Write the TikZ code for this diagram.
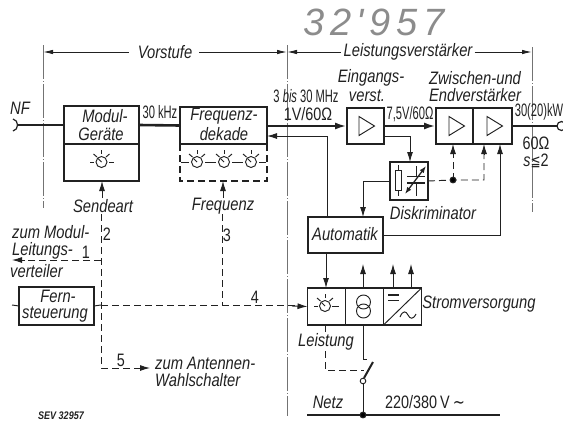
\documentclass[tikz,border=0pt]{standalone}
\usepackage{fontspec}
\usetikzlibrary{arrows.meta,calc}
\setmainfont[FakeStretch=0.82]{Liberation Sans}
\newfontfamily\numfam[FakeStretch=0.62]{Liberation Sans}
\newfontfamily\numwfam[FakeStretch=0.8]{Liberation Sans}
\newfontfamily\handfam[LetterSpace=15]{Liberation Sans}
\newfontfamily\symfam[FakeStretch=0.8]{DejaVu Sans}
\newcommand\labf{\fontsize{18}{18}\selectfont\itshape}
\newcommand\numf{\fontsize{18}{18}\selectfont\numfam}
\newcommand\numwf{\fontsize{18}{18}\selectfont\numwfam}
\definecolor{ink}{gray}{0.13}
\tikzset{
  x=1pt,y=-1pt,
  ink/.style={draw=ink,line width=1.2pt},
  box/.style={ink,rectangle,inner sep=0pt,outer sep=0pt},
  thick line/.style={draw=ink,line width=2.6pt},
  thin line/.style={draw=ink,line width=0.95pt},
  dash line/.style={draw=ink,line width=0.95pt,dash pattern=on 7pt off 4pt},
  guide/.style={draw=black!55,line width=0.5pt,dash pattern=on 34pt off 2pt on 1pt off 2pt},
  head/.style={-{Latex[length=10pt,width=6pt]}},
  lab/.style={font=\labf,text=ink,inner sep=0pt,align=center},
  num/.style={font=\numf,text=ink,inner sep=0pt,align=center},
  numw/.style={font=\numwf,text=ink,inner sep=0pt,align=center},
}
\newcommand\dialsym[2]{%
  \begin{scope}[shift={(#1,#2)}]
    \draw[thin line] (0,0) circle[radius=5.5pt];
    \draw[thin line] (0,0) -- (-3.5,-3.5);
    \draw[thin line] (0,-8) -- (0,-12);
    \draw[thin line] (-8,-8) -- (-4.5,-5);
    \draw[thin line] (8,-8) -- (4.5,-5);
  \end{scope}}
\newcommand\tri[2]{\draw[thin line] (#1,#2-9.5) -- (#1+15.5,#2) -- (#1,#2+9.5) -- cycle;}
\begin{document}
\begin{tikzpicture}
\useasboundingbox (0,0) rectangle (563,421);
\fill[white] (0,0) rectangle (563,421);
% handwritten number
\node[font=\fontsize{38}{38}\selectfont\handfam\itshape,text=black!45,inner sep=0pt] (hand) at (374,22) {32'957};
% guide lines
\coordinate (gaT) at (43,45); \coordinate (gaB) at (43,208);
\coordinate (gbT) at (287,45); \coordinate (gbB) at (287,416);
\coordinate (gcT) at (532,47); \coordinate (gcB) at (532,212);
\draw[guide] (gaT) -- (gaB);
\draw[guide] (gbT) -- (gbB);
\draw[guide] (gcT) -- (gcB);
% dimension lines
\node[lab] (vor) at (165,52) {Vorstufe};
\node[lab] (lei) at (408,52) {Leistungsverstärker};
\coordinate (d1) at (43,52); \coordinate (d2) at (287,52); \coordinate (d3) at (532,52);
\draw[thin line,{Latex[length=10pt,width=4.5pt]}-] (d1) -- ($(vor.west)+(-9,0)$);
\draw[thin line,-{Latex[length=10pt,width=4.5pt]}] ($(vor.east)+(7,0)$) -- (d2);
\draw[thin line,{Latex[length=10pt,width=4.5pt]}-] (d2) -- ($(lei.west)+(-2,0)$);
\draw[thin line,-{Latex[length=10pt,width=4.5pt]}] ($(lei.east)+(2,0)$) -- (d3);
% boxes
\node[box,minimum width=75pt,minimum height=38pt] (modT) at (101.5,125) {};
\node[box,minimum width=75pt,minimum height=37pt] (modB) at (101.5,162.5) {};
\node[box,minimum width=87pt,minimum height=37pt] (frqT) at (223.5,125.5) {};
\coordinate (frqBL) at (180,144); \coordinate (frqBR) at (267,144);
\coordinate (frqBot) at (223,181);
\draw[dash line,line width=1.1pt] (frqBL) -- (180,181) -- (267,181) -- (frqBR);
\node[box,minimum width=37pt,minimum height=36pt] (ein) at (365.5,126) {};
\node[box,minimum width=37pt,minimum height=36pt] (zw) at (454.5,126) {};
\node[box,minimum width=39pt,minimum height=36pt] (end) at (492.5,126) {};
\node[box,minimum width=38pt,minimum height=38pt] (dis) at (409,181) {};
\node[box,minimum width=75pt,minimum height=36pt] (aut) at (345.5,235) {};
\node[box,minimum width=75pt,minimum height=38pt] (fern) at (56.5,306) {};
\node[box,minimum width=38pt,minimum height=37pt] (sa) at (326.5,306.5) {};
\node[box,minimum width=38pt,minimum height=37pt] (sb) at (364.5,306.5) {};
\node[box,minimum width=38pt,minimum height=37pt] (sc) at (402.5,306.5) {};
% box texts
\node[lab] (t1) at (105,116) {Modul-};
\node[lab] (t2) at (101,134) {Geräte};
\node[lab] (t3) at (224,116) {Frequenz-};
\node[lab] (t4) at (224,134) {dekade};
\node[lab] (t5) at (345,234) {Automatik};
\node[lab] (t6) at (58,296) {Fern-};
\node[lab] (t7) at (55,315) {steuerung};
% amplifier labels
\node[lab] (e1) at (371,78) {Eingangs-};
\node[lab] (e2) at (367,96) {verst.};
\node[lab] (z1) at (475,78) {Zwischen-und};
\node[lab] (z2) at (475,95) {Endverstärker};
\node[lab] (nf) at (20,108) {NF};
\node[num] (k30) at (160,112) {30\,kHz};
\node[num] (m1) at (306,96) {3 {\labf bis} 30\,MHz};
\node[numw] (m2) at (308,114) {1V/60Ω};
\node[num] (v75) at (410,114) {7,5V/60Ω};
\node[num] (kw) at (539,112) {30(20)kW};
\node[numw] (oh) at (536,143) {60Ω};
\node[numw] (ss) at (536,161) {{\labf s}{\symfam\fontsize{15}{15}\selectfont ≦}2};
\node[lab] (sen) at (103,206) {Sendeart};
\node[lab] (frq) at (223,206) {Frequenz};
\node[lab] (dk) at (433,213) {Diskriminator};
\node[lab] (st) at (479,304) {Stromversorgung};
\node[lab] (ls) at (326,342) {Leistung};
\node[lab,anchor=west] (l1) at (12,232) {zum Modul-};
\node[lab,anchor=west] (l2) at (12,251) {Leitungs-};
\node[lab,anchor=west] (l3) at (10,271) {verteiler};
\node[lab,anchor=west] (a1) at (155,363) {zum Antennen-};
\node[lab,anchor=west] (a2) at (155,380) {Wahlschalter};
\node[numw] (n1) at (86,252) {1};
\node[numw] (n2) at (107,234) {2};
\node[numw] (n3) at (227,235) {3};
\node[numw] (n4) at (255,297) {4};
\node[numw] (n5) at (121,360) {5};
\node[lab] (netz) at (328,402) {Netz};
\node[numw] (volt) at (425,402) {220/380\,V\,{\symfam∼}};
\node[font=\fontsize{11}{11}\selectfont\bfseries\itshape,text=ink,inner sep=0pt] (sev) at (61,416) {SEV 32957};
% dials
\dialsym{101.5}{162}
\draw[thin line] (90,162) -- (94,162) (109,162) -- (114,162);
\dialsym{197}{162}\dialsym{224}{162}\dialsym{251}{162}
\draw[thin line] (181,162) -- (189,162) (205,162) -- (216,162) (232,162) -- (243,162) (259,162) -- (266,162);
\dialsym{325}{306}
\draw[thin line] (314,306) -- (318,306) (332,306) -- (339,306);
% amp symbols
\tri{359}{126}\tri{449}{126}\tri{487}{126}
% discriminator symbol
\draw[thin line] (398.5,165) -- (398.5,196);
\draw[thin line,fill=white] (395.5,170) rectangle (401.5,190);
\draw[thin line] (416,166) -- (416,176) (416,183) -- (416,196);
\draw[draw=ink,line width=1.5pt] (407,176.5) -- (425,176.5) (407,183) -- (425,183);
\draw[draw=ink,line width=1.3pt,{Latex[length=7pt,width=5pt]}-{Latex[length=7pt,width=5pt]}] (405,194) -- (426,166);
% power symbols
\draw[thin line] (363.5,302) circle[radius=7pt] (363.5,311) circle[radius=7pt];
\draw[thin line] (sc.south west) -- (sc.north east);
\draw[draw=ink,line width=1.1pt] (388,295) -- (399,295) (388,300.5) -- (399,300.5);
\draw[thin line] (400,317) .. controls (403,310) and (406,311) .. (408,315) .. controls (410,319) and (413,320) .. (416,314);
% main thick connectors
\coordinate (nfpl) at (18,125);
\draw[thin line,line width=1.2pt] (13,119) .. controls (19,120) and (19,130) .. (13,131);
\draw[thick line] (nfpl) -- (modT.west);
\draw[thick line] (modT.east) -- (frqT.west);
\draw[thick line,-{Latex[length=12pt,width=7pt]}] (frqT.east |- 0,126) -- (ein.west);
\draw[thick line,-{Latex[length=12pt,width=7pt]}] (ein.east) -- (zw.west);
\coordinate (outp) at (557,126);
\draw[thick line,line width=2pt] (end.east) -- (outp);
\draw[thin line,line width=1.2pt] (561.5,126) circle[radius=4.5pt];
% thin connectors
\draw[thin line,head] (aut.north -| 327,0) -- (327,136) -- (frqT.east |- 0,136);
\coordinate (einO) at (384,136);
\draw[thin line,head] (einO) -- (410,136) -- (dis.north -| 410,0);
\draw[thin line,head] (dis.west) -- (363,181) -- (363,217);
\draw[thin line,head] (aut.east) -- (500,235) -- (500,144);
\draw[thin line,head] (326,253) -- (326,288);
\draw[thin line,head] (363,288) -- (363,264);
\draw[thin line,head] (393,288) -- (393,264);
\draw[thin line,head] (411,288) -- (411,264);
% control arrows
\coordinate (senA) at (102,198); \coordinate (frqA) at (223,198);
\draw[thin line,head] (senA) -- (102,181);
\draw[thin line,head] (frqA) -- (frqBot);
% dashed connectors
\coordinate (dd) at (453,180);
\draw[dash line] (dis.east) -- (dd) -- (484,180) -- (484,150);
\draw[dash line] (dd) -- (453,150);
\draw[thin line,head] (484,155) -- (484,144);
\draw[thin line,head] (453,155) -- (453,144);
\fill[ink] (dd) circle[radius=2.8pt];
% remote lines
\coordinate (j2) at (101,305);
\draw[thin line] (12,305) -- (fern.west);
\draw[thin line] (fern.east) -- (j2);
\draw[dash line] (101,214) -- (101,368) -- (140,368);
\draw[thin line,head] (136,368) -- (150,368);
\draw[dash line] (101,260) -- (22,260);
\draw[thin line,head] (25,260) -- (12,260);
\draw[dash line] (222,214) -- (222,305);
\draw[dash line] (j2) -- (296,305);
\draw[thin line,head] (292,306) -- (sa.west);
% switch and mains
\coordinate (swb) at (363,381); \coordinate (bus) at (363,415);
\draw[thin line] (363,325) -- (363,359) -- (367,359);
\draw[dash line] (325,325) -- (325,333);
\draw[dash line] (325,351) -- (325,370) -- (364,370);
\draw[draw=ink,line width=2pt] (364,378) -- (373,362);
\draw[thin line,fill=white] (swb) circle[radius=2.8pt];
\draw[thin line] (363,384) -- (bus);
\draw[draw=ink,line width=1.2pt] (307,415) -- (500,415);
\fill[ink] (bus) circle[radius=2.8pt];
\end{tikzpicture}
\end{document}
